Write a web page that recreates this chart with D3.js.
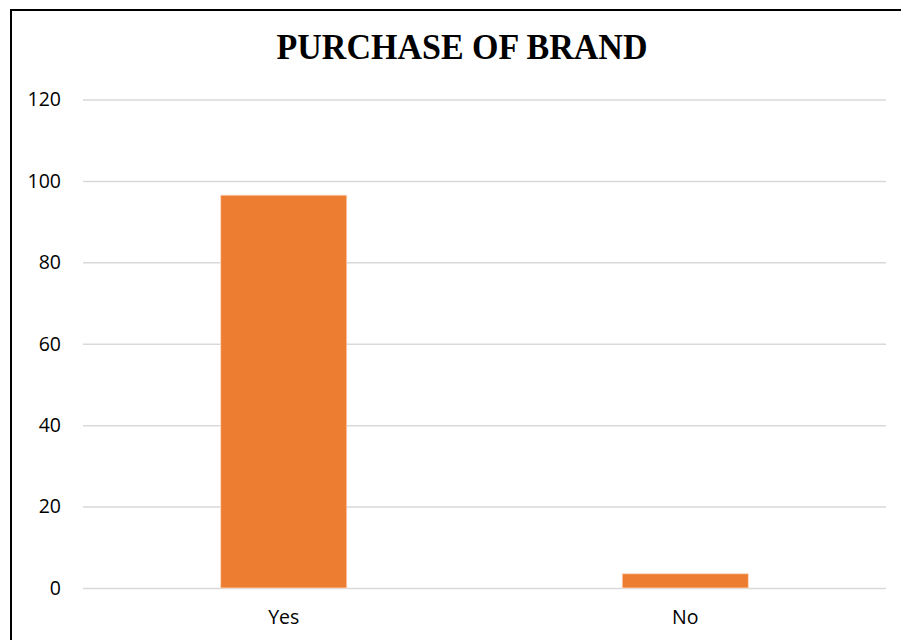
<!DOCTYPE html>
<html>
<head>
<meta charset="utf-8">
<script src="https://cdn.jsdelivr.net/npm/d3@7"></script>
<style>
  html, body { margin: 0; padding: 0; background: #fff; }
  svg { display: block; }
</style>
</head>
<body>
<svg id="chart" width="901" height="640"></svg>
<script>
// Survey answers: did the respondent purchase the brand?
const categories = ["Yes", "No"];
const values = [96.5, 3.5];
const yTicks = [0, 20, 40, 60, 80, 100, 120];
const title = "PURCHASE OF BRAND";

const svg = d3.select("#chart");
const W = 901, H = 640;

// chart frame (runs off the right and bottom edges)
svg.append("path")
  .attr("d", `M11,${H + 5} L11,10 L${W + 5},10`)
  .attr("fill", "none")
  .attr("stroke", "#000")
  .attr("stroke-width", 2);

const plot = { left: 83, right: 886, top: 99.5, bottom: 588 };

const y = d3.scaleLinear().domain([0, 120]).range([plot.bottom, plot.top]);
const x = d3.scaleBand()
  .domain(categories)
  .range([plot.left, plot.right])
  .paddingInner(0.686)
  .paddingOuter(0.343);

// title
svg.append("text")
  .attr("x", 462)
  .attr("y", 59)
  .attr("text-anchor", "middle")
  .attr("font-family", "'Liberation Serif', 'Times New Roman', serif")
  .attr("font-weight", "bold")
  .attr("font-size", 36)
  .attr("textLength", 371)
  .attr("lengthAdjust", "spacingAndGlyphs")
  .attr("fill", "#000")
  .text(title);

// horizontal gridlines + y tick labels
const yAxis = d3.axisLeft(y)
  .tickValues(yTicks)
  .tickSize(-(plot.right - plot.left))
  .tickPadding(22)
  .tickFormat(d3.format("d"));

const gy = svg.append("g")
  .attr("transform", `translate(${plot.left},0)`)
  .call(yAxis);
gy.select(".domain").remove();
gy.selectAll(".tick line")
  .attr("stroke", "#d9d9d9")
  .attr("stroke-width", 1.5);
gy.selectAll(".tick text")
  .attr("font-family", "'Open Sans', 'Noto Sans', sans-serif")
  .attr("font-size", 19.5)
  .attr("fill", "#000");

// bars
svg.append("g")
  .selectAll("rect")
  .data(categories.map((c, i) => ({ c, v: values[i] })))
  .join("rect")
  .attr("x", d => x(d.c))
  .attr("y", d => y(d.v))
  .attr("width", x.bandwidth())
  .attr("height", d => y(0) - y(d.v))
  .attr("fill", "#ED7D31")
  .attr("stroke", "#fbd9c2")
  .attr("stroke-width", 0.8);

// category labels
const xAxis = d3.axisBottom(x).tickSize(0).tickPadding(22);
const gx = svg.append("g")
  .attr("transform", `translate(0,${plot.bottom})`)
  .call(xAxis);
gx.select(".domain").remove();
gx.selectAll(".tick text")
  .attr("font-family", "'Open Sans', 'Noto Sans', sans-serif")
  .attr("font-size", 19.5)
  .attr("fill", "#000");
</script>
</body>
</html>
